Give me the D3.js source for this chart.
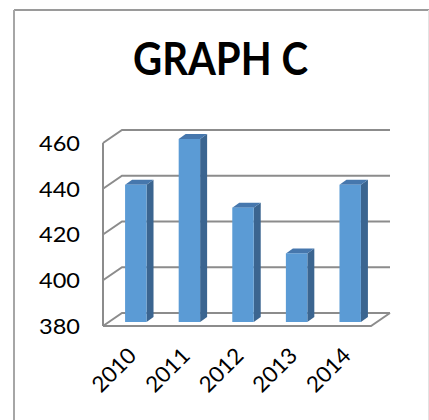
<!DOCTYPE html>
<html>
<head>
<meta charset="utf-8">
<script src="https://cdn.jsdelivr.net/npm/d3@7"></script>
<style>
  body { margin: 0; background: #fff; }
  svg { display: block; }
</style>
</head>
<body>
<div id="chart"></div>
<script>
// data
const years = ["2010", "2011", "2012", "2013", "2014"];
const values = [440, 460, 430, 410, 440];
const yTicks = [380, 400, 420, 440, 460];
const title = "GRAPH C";

const width = 429, height = 420;

const svg = d3.select("#chart").append("svg")
  .attr("width", width)
  .attr("height", height);

// outer frame
svg.append("line").attr("x1", 14).attr("y1", 10).attr("x2", 429).attr("y2", 10)
  .attr("stroke", "#9a9a9a").attr("stroke-width", 2);
svg.append("line").attr("x1", 14).attr("y1", 10).attr("x2", 14).attr("y2", 420)
  .attr("stroke", "#a6a6a6").attr("stroke-width", 2);
svg.append("line").attr("x1", 428.5).attr("y1", 10).attr("x2", 428.5).attr("y2", 420)
  .attr("stroke", "#e2e2e2").attr("stroke-width", 1);

svg.append("text")
  .attr("x", 133).attr("y", 75)
  .attr("textLength", 175)
  .attr("lengthAdjust", "spacingAndGlyphs")
  .style("font-family", "Lato, sans-serif")
  .style("font-weight", "bold")
  .style("font-size", "45px")
  .text(title);

// 3d frame: front plane + depth offset
const front = { left: 103, right: 371 };
const depth = { dx: 19, dy: -13 };
const barOff = { dx: 6, dy: -4 };   // where bars sit inside the depth
const barDepth = { dx: 7, dy: -5 };

const y = d3.scaleLinear().domain([380, 460]).range([326, 143]);
const x = d3.scaleBand().domain(years)
  .range([front.left + barOff.dx, front.right + barOff.dx])
  .paddingInner(0.6).paddingOuter(0.3);

const gridColor = "#8c8c8c";
const grid = svg.append("g").attr("fill", "none")
  .attr("stroke", gridColor).attr("stroke-width", 2);

// gridlines: left wall diagonal + back wall horizontal
grid.selectAll("path.grid")
  .data(yTicks)
  .join("path")
  .attr("class", "grid")
  .attr("d", d => {
    const yf = y(d);
    return `M${front.left},${yf}L${front.left + depth.dx},${yf + depth.dy}L${front.right + depth.dx},${yf + depth.dy}`;
  });

// front vertical axis
grid.append("path")
  .attr("d", `M${front.left},${y(460)}L${front.left},${y(380)}`);
// floor front edge + right diagonal
grid.append("path")
  .attr("d", `M${front.left},${y(380)}L${front.right},${y(380)}L${front.right + depth.dx},${y(380) + depth.dy}`);

// y tick labels
svg.append("g")
  .selectAll("text")
  .data(yTicks)
  .join("text")
  .attr("x", 80)
  .attr("y", d => y(d))
  .attr("dy", "0.36em")
  .attr("text-anchor", "end")
  .attr("textLength", 41)
  .attr("lengthAdjust", "spacingAndGlyphs")
  .style("font-family", "Lato, sans-serif")
  .style("font-size", "22px")
  .text(d => d);

// bars
const bars = svg.append("g").selectAll("g")
  .data(years.map((yr, i) => ({ yr, v: values[i] })))
  .join("g");

const bw = x.bandwidth();
bars.append("path") // side
  .attr("fill", "#3b6590")
  .attr("d", d => {
    const x1 = x(d.yr) + bw, yt = y(d.v) + barOff.dy, yb = y(380) + barOff.dy;
    return `M${x1},${yt}L${x1 + barDepth.dx},${yt + barDepth.dy}L${x1 + barDepth.dx},${yb + barDepth.dy}L${x1},${yb}Z`;
  });
bars.append("path") // top
  .attr("fill", "#4677ad")
  .attr("d", d => {
    const x0 = x(d.yr), x1 = x0 + bw, yt = y(d.v) + barOff.dy;
    return `M${x0},${yt}L${x1},${yt}L${x1 + barDepth.dx},${yt + barDepth.dy}L${x0 + barDepth.dx},${yt + barDepth.dy}Z`;
  });
bars.append("rect") // front
  .attr("fill", "#5b9bd5")
  .attr("x", d => x(d.yr))
  .attr("width", bw)
  .attr("y", d => y(d.v) + barOff.dy)
  .attr("height", d => y(380) - y(d.v));

// x labels
svg.append("g")
  .selectAll("text")
  .data(years)
  .join("text")
  .attr("transform", d => `translate(${x(d) + bw / 2 + 2},${357}) rotate(-45)`)
  .attr("text-anchor", "end")
  .attr("textLength", 52)
  .attr("lengthAdjust", "spacingAndGlyphs")
  .style("font-family", "Lato, sans-serif")
  .style("font-size", "22px")
  .text(d => d);
</script>
</body>
</html>
